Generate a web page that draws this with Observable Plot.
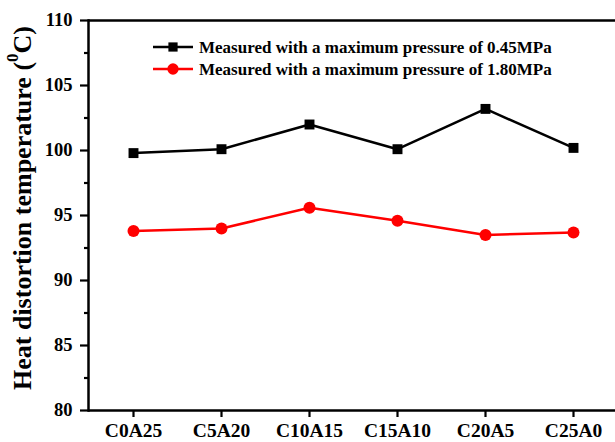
<!DOCTYPE html>
<html><head><meta charset="utf-8">
<script src="https://cdn.jsdelivr.net/npm/d3@7"></script>
<script src="https://cdn.jsdelivr.net/npm/@observablehq/plot@0.6"></script>
<style>
body{margin:0;background:#fff;}
#wrap{width:615px;height:442px;}
</style></head><body><div id="wrap"></div>
<script>
const categories = ["C0A25","C5A20","C10A15","C15A10","C20A5","C25A0"];
const series1Name = "Measured with a maximum pressure of 0.45MPa";
const series1 = [99.8,100.1,102.0,100.1,103.2,100.2];
const series2Name = "Measured with a maximum pressure of 1.80MPa";
const series2 = [93.8,94.0,95.6,94.6,93.5,93.7];
const yMajorTicks = [80,85,90,95,100,105,110];
const yMinorTicks = [82.5,87.5,92.5,97.5,102.5,107.5];
const yDomain = [80,110];
const yLabelParts = ["Heat distortion temperature (", "0", "C)"];

const d1 = categories.map((c,i)=>({cat:c, v:series1[i]}));
const d2 = categories.map((c,i)=>({cat:c, v:series2[i]}));
const font = "'Liberation Serif', 'Times New Roman', serif";

const chart = Plot.plot({
  width:615, height:442,
  marginLeft:88, marginRight:0, marginTop:20, marginBottom:32,
  style:{fontFamily:font, fontWeight:"bold", color:"#000", background:"#fff", overflow:"visible"},
  x:{type:"point", domain:categories, range:[132,573], padding:0},
  y:{domain:yDomain},
  marks:[
    Plot.axisY({ticks:yMajorTicks, tickSize:8, tickPadding:8, fontSize:18.5, strokeWidth:2.2, label:null}),
    Plot.axisY({ticks:yMinorTicks, tickSize:4, tickFormat:()=>"", strokeWidth:2.2, label:null}),
    Plot.axisX({tickSize:7, tickPadding:6, fontSize:19.5, strokeWidth:2.2, label:null}),
    Plot.frame({anchor:"left", stroke:"#000", strokeWidth:2.5}),
    Plot.ruleY(yDomain, {stroke:"#000", strokeWidth:2.5}),
    Plot.line(d1, {x:"cat", y:"v", stroke:"#000", strokeWidth:2.5}),
    Plot.dot(d1, {x:"cat", y:"v", symbol:"square", r:5.6, fill:"#000"}),
    Plot.line(d2, {x:"cat", y:"v", stroke:"#f00", strokeWidth:2.5}),
    Plot.dot(d2, {x:"cat", y:"v", symbol:"circle", r:6, fill:"#f00"})
  ]
});
document.getElementById("wrap").appendChild(chart);

const svg = d3.select(chart);
// y-axis title with superscript
const yl = svg.append("text")
  .attr("transform","translate(22,208) rotate(-90)")
  .attr("text-anchor","middle")
  .attr("dominant-baseline","central")
  .style("font-family",font).style("font-weight","bold").style("font-size","26px").attr("fill","#000");
yl.append("tspan").text(yLabelParts[0]);
yl.append("tspan").attr("baseline-shift","super").style("font-size","17px").text(yLabelParts[1]);
yl.append("tspan").text(yLabelParts[2]);

// legend
const legend = [
  {name:series1Name, color:"#000", symbol:d3.symbolSquare, size:85},
  {name:series2Name, color:"#f00", symbol:d3.symbolCircle, size:100}
];
const lg = svg.append("g").attr("text-anchor","start");
legend.forEach((e,i)=>{
  const y = 47 + i*22;
  lg.append("line").attr("x1",153).attr("x2",193).attr("y1",y).attr("y2",y).attr("stroke",e.color).attr("stroke-width",2.5);
  lg.append("path").attr("d",d3.symbol(e.symbol, e.size)()).attr("transform",`translate(173,${y})`).attr("fill",e.color);
  lg.append("text").attr("x",199).attr("y",y).attr("dominant-baseline","central").attr("text-anchor","start")
    .style("font-family",font).style("font-weight","bold").style("font-size","17px").attr("fill","#000").text(e.name);
});
</script></body></html>
